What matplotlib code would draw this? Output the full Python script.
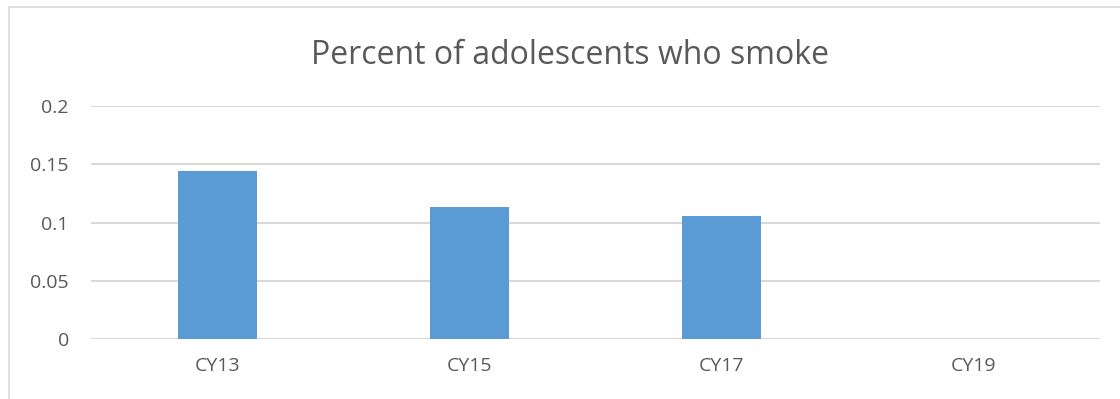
import matplotlib
matplotlib.use("Agg")
import matplotlib.pyplot as plt
import numpy as np
from matplotlib.patches import Rectangle
from matplotlib.ticker import FixedLocator

years = ["CY13", "CY15", "CY17", "CY19"]
smoking_rate = [0.144, 0.1135, 0.106, np.nan]
y_ticks = [0, 0.05, 0.1, 0.15, 0.2]
y_tick_labels = ["0", "0.05", "0.1", "0.15", "0.2"]

BAR = "#5B9BD5"
GRID = "#D9D9D9"
TEXT = "#595959"
FONT = "Open Sans"

fig = plt.figure(figsize=(11.2, 3.99), dpi=100)
fig.patch.set_facecolor("white")

# chart frame, open past the right and bottom edges
W, H = 1120, 399
fig.add_artist(Rectangle((9 / W, -0.1), 1.2, 1 - 7 / H + 0.1, transform=fig.transFigure,
                         fill=False, edgecolor=GRID, linewidth=1.2))

ax = fig.add_axes([91 / W, 1 - 339 / H, (1100 - 91) / W, (339 - 106) / H])
x = np.arange(len(years))
ax.bar(x, smoking_rate, width=0.313, color=BAR, zorder=3)

ax.set_xlim(-0.5, len(years) - 0.5)
ax.set_ylim(0, 0.2)
ax.yaxis.set_major_locator(FixedLocator(y_ticks))
ax.set_yticklabels(y_tick_labels)
ax.set_xticks(x)
ax.set_xticklabels(years)
ax.grid(axis="y", color=GRID, linewidth=1.5, zorder=0)
ax.set_axisbelow(True)
for side in ax.spines.values():
    side.set_visible(False)
ax.tick_params(axis="both", length=0, labelcolor=TEXT, labelsize=14)
ax.tick_params(axis="y", pad=16)
ax.tick_params(axis="x", pad=13)
for lbl in ax.get_xticklabels() + ax.get_yticklabels():
    lbl.set_fontfamily(FONT)

fig.text(570 / W, 1 - 55 / H, "Percent of adolescents who smoke", ha="center", va="center",
         fontsize=23, color=TEXT, family=FONT)

fig.savefig("out.png", dpi=100)
